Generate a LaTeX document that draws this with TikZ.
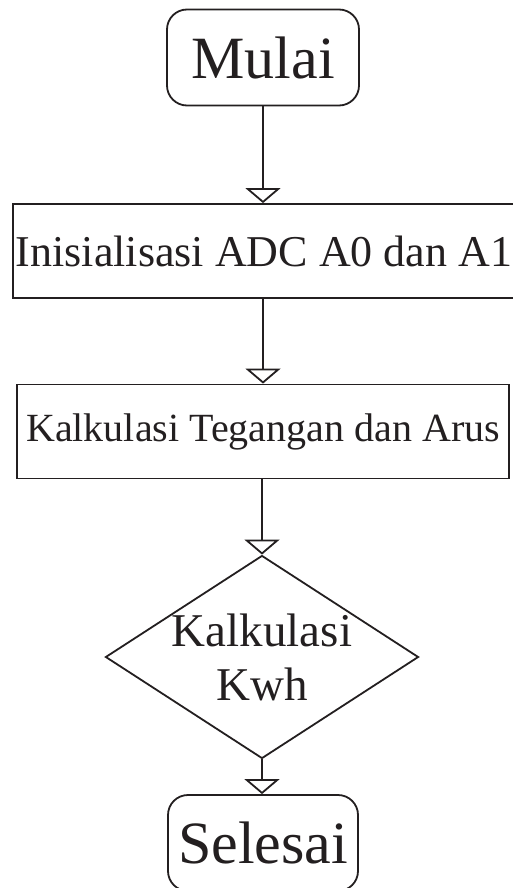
\documentclass[tikz,border=0pt]{standalone}
\usepackage{fontspec}
\setmainfont{Liberation Serif}
\usetikzlibrary{arrows.meta,shapes.geometric}

\begin{document}
\begin{tikzpicture}[x=1pt,y=-1pt]
    \def\linew{1.8pt}
    \def\termw{192pt}
    \def\termh{96pt}

    \definecolor{fc-line}{HTML}{231F20}

    \tikzset{
      flownode/.style={
        draw=fc-line,
        line width=\linew,
        text=fc-line,
        align=center,
        inner sep=0pt
      },
      termnode/.style={
        flownode,
        rounded corners=20pt,
        minimum width=\termw,
        minimum height=\termh,
        font=\fontsize{60}{66}\selectfont
      },
      procnode/.style={
        flownode,
        minimum height=94pt
      },
      decnode/.style={
        flownode,
        diamond,
        aspect=1.54,
        inner sep=-20pt,
        minimum width=313pt,
        minimum height=203pt,
        font=\fontsize{47}{54}\selectfont
      },
      flowarrow/.style={
        -{Triangle[open, width=35pt, length=15pt]},
        line width=\linew,
        draw=fc-line
      }
    }

    \useasboundingbox (0,0) rectangle (512,888);

    \node[termnode] (mulai) at (263,57.5) {Mulai};
    \node[procnode, minimum width=502pt, font=\fontsize{44}{50}\selectfont] (init) at (264,251) {Inisialisasi ADC A0 dan A1};
    \node[procnode, minimum width=492pt, font=\fontsize{40}{46}\selectfont] (hitung) at (263,431.5) {Kalkulasi Tegangan dan Arus};
    \node[decnode] (kwh) at (262,657) {Kalkulasi\\Kwh};
    \node[termnode, minimum width=190pt] (selesai) at (263,843) {Selesai};

    \draw[flowarrow] (mulai.south) -- (mulai.south |- init.north);
    \draw[flowarrow] (init.south -| mulai.south) -- (mulai.south |- hitung.north);
    \draw[flowarrow] (hitung.south -| kwh.north) -- (kwh.north);
    \draw[flowarrow] (kwh.south) -- (kwh.south |- selesai.north);
  \end{tikzpicture}
\end{document}
